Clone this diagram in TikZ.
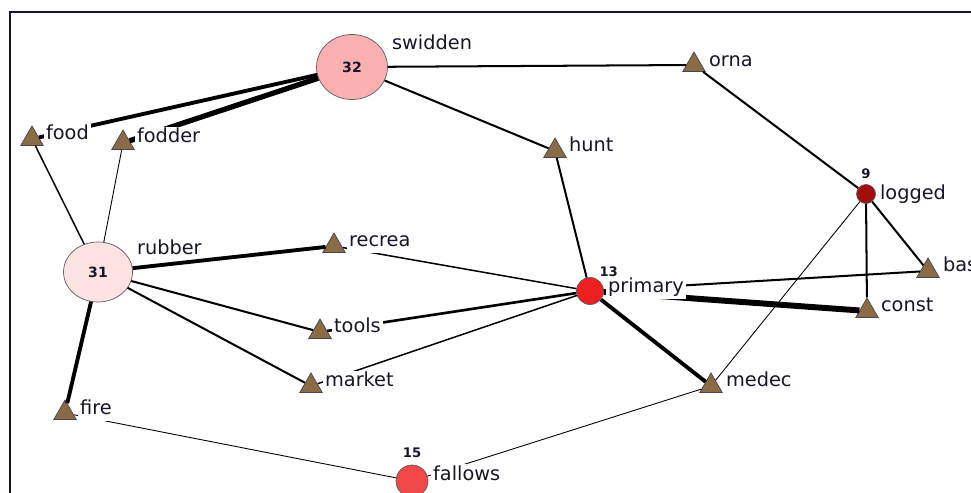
\documentclass[tikz,border=0pt]{standalone}
\usepackage{fontspec}
\setmainfont{DejaVu Sans}
\usetikzlibrary{shapes.geometric,positioning}
\definecolor{mud}{RGB}{139,106,70}
\definecolor{rose}{RGB}{250,176,176}
\definecolor{blush}{RGB}{253,226,226}
\definecolor{scarlet}{RGB}{236,32,32}
\definecolor{coral}{RGB}{240,72,72}
\definecolor{maroon}{RGB}{160,14,14}
\definecolor{ink}{RGB}{22,22,40}
\tikzset{
prod/.style={draw=ink!80, fill=mud, regular polygon, regular polygon sides=3, minimum size=0.52cm, inner sep=0pt}, % the uses
land/.style={draw=ink!70, ellipse, inner sep=0pt, text=ink, font=\fontsize{8}{9}\selectfont\bfseries}, % big land types
spot/.style={draw=ink!70, circle, inner sep=0pt},
lbl/.style={anchor=base west, fill=white, inner sep=1pt, text depth=0.25em, text=ink, font=\fontsize{11}{13}\selectfont},
num/.style={inner sep=0.5pt, text=ink, font=\fontsize{7.5}{8}\selectfont\bfseries},
tie1/.style={line width=0.5pt},
tie2/.style={line width=0.85pt},
tie3/.style={line width=1.15pt},
tie4/.style={line width=2.2pt},
tie5/.style={line width=3pt},
}

\begin{document}
\begin{tikzpicture}[x=0.02cm,y=-0.02cm]
   \useasboundingbox (0,0) rectangle (971,493);
   \draw[line width=1.2pt, ink] (10,493) -- (10,12) -- (971,12);
   % land types
   \node[land, fill=rose, minimum width=1.42cm, minimum height=1.3cm] (swidden) at (352,67) {32};
   \node[land, fill=blush, minimum width=1.38cm, minimum height=1.2cm] (rubber) at (98,272) {31};
   \node[spot, fill=scarlet, minimum size=0.54cm, label={[num,label distance=1pt]58:13}] (primary) at (590,291) {};
   \node[spot, fill=coral, minimum size=0.64cm, label={[num,label distance=3pt]above:15}] (fallows) at (412,481) {};
   \node[spot, fill=maroon, minimum size=0.38cm, label={[num,label distance=2.5pt]above:9}] (logged) at (866,194) {};
   % uses
   \node[prod] (food)   at (32,139)  {};
   \node[prod] (fodder) at (123,143) {};
   \node[prod] (orna)   at (694,65)  {};
   \node[prod] (hunt)   at (555,151) {};
   \node[prod] (recrea) at (334,246) {};
   \node[prod] (tools)  at (320,332) {};
   \node[prod] (market) at (311,386) {};
   \node[prod] (fire)   at (65,413)  {};
   \node[prod] (bas)    at (928,271) {};
   \node[prod] (const)  at (867,311) {};
   \node[prod] (medec)  at (711,386) {};
   % ties
   \draw[tie4] (swidden) -- (food);
   \draw[tie5] (swidden) -- (fodder);
   \draw[tie3] (swidden) -- (orna);
   \draw[tie3] (swidden) -- (hunt);
   \draw[tie3] (orna) -- (logged);
   \draw[tie3] (hunt) -- (primary);
   \draw[tie2] (food) -- (rubber);
   \draw[tie1] (fodder) -- (rubber);
   \draw[tie4] (rubber) -- (recrea);
   \draw[tie3] (rubber) -- (tools);
   \draw[tie3] (rubber) -- (market);
   \draw[tie4] (rubber) -- (fire);
   \draw[tie2] (recrea) -- (primary);
   \draw[line width=1.5pt] (tools) -- (primary);
   \draw[tie2] (market) -- (primary);
   \draw[tie3] (primary) -- (bas);
   \draw[line width=3.4pt] (primary) -- (const);
   \draw[tie4] (primary) -- (medec);
   \draw[tie3] (logged) -- (bas);
   \draw[tie3] (logged) -- (const);
   \draw[tie1] (logged) -- (medec);
   \draw[tie1] (medec) -- (fallows);
   \draw[tie1] (fire) -- (fallows);
   % names
   \node[lbl] (swidden-l) at ([shift={(38,-17)}]swidden.center) {swidden};
   \node[lbl, text depth=0pt] (rubber-l) at ([shift={(37,-17)}]rubber.center) {rubber};
   \node[lbl] (primary-l) at ([shift={(16,2)}]primary.center)   {primary};
   \node[lbl] (fallows-l) at ([shift={(19,-1)}]fallows.center)  {fallows};
   \node[lbl] (logged-l)  at ([shift={(12,6)}]logged.center)    {logged};
   \node[lbl] (food-l)    at ([shift={(12,1)}]food.center)   {food};
   \node[lbl] (fodder-l)  at ([shift={(12,0)}]fodder.center) {fodder};
   \node[lbl] (orna-l)    at ([shift={(13,2)}]orna.center)   {orna};
   \node[lbl] (hunt-l)    at ([shift={(12,1)}]hunt.center)   {hunt};
   \node[lbl] (recrea-l)  at ([shift={(13,1)}]recrea.center) {recrea};
   \node[lbl] (tools-l)   at ([shift={(12,1)}]tools.center)  {tools};
   \node[lbl] (market-l)  at ([shift={(12,1)}]market.center) {market};
   \node[lbl] (fire-l)    at ([shift={(13,2)}]fire.center)   {fire};
   \node[lbl] (bas-l)     at ([shift={(13,1)}]bas.center)    {bas};
   \node[lbl] (const-l)   at ([shift={(12,1)}]const.center)  {const};
   \node[lbl] (medec-l)   at ([shift={(13,1)}]medec.center)  {medec};
\end{tikzpicture}
\end{document}
